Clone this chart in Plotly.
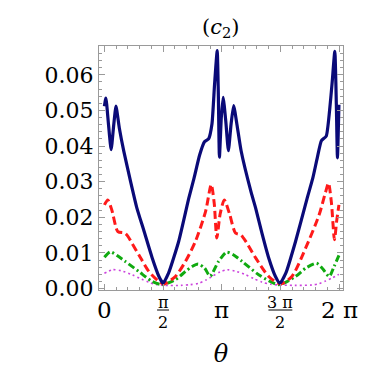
import numpy as np
import plotly.graph_objects as go

PI = np.pi

# ---- data ----
blue_theta = [0, 0.04, 0.11, 0.18, 0.25, 0.31, 0.40, 0.52, 0.70, 0.87, 1.05, 1.28, 1.46, 1.57,
              1.72, 1.99, 2.26, 2.40, 2.55, 2.68, 2.79, 2.88, 2.95, 3.02, 3.05, 3.08, 3.13, 3.18,
              3.25, 3.32, 3.39, 3.46, 3.55, 3.66, 3.93, 4.05, 4.22, 4.40, 4.58, 4.70, 4.86, 5.12,
              5.43, 5.58, 5.70, 5.81, 5.94, 6.03, 6.10, 6.17, 6.21, 6.24, 6.28]
blue_val = [0.0512, 0.0535, 0.046, 0.039, 0.046, 0.0512, 0.045, 0.0385, 0.0301, 0.0226, 0.0165,
            0.0086, 0.0034, 0.0015, 0.0044, 0.0133, 0.0254, 0.031, 0.0375, 0.0412, 0.042, 0.0462,
            0.0574, 0.0668, 0.055, 0.0369, 0.048, 0.0537, 0.047, 0.0387, 0.046, 0.0514, 0.046,
            0.0387, 0.027, 0.0226, 0.0155, 0.0086, 0.0034, 0.0015, 0.0044, 0.0133, 0.0254, 0.031,
            0.0367, 0.0415, 0.0428, 0.050, 0.058, 0.0666, 0.052, 0.0367, 0.0516]

red_theta = [0, 0.09, 0.2, 0.36, 0.54, 0.62, 0.75, 0.92, 1.19, 1.46, 1.6, 1.9, 2.17, 2.44, 2.71,
             2.86, 2.94, 3.01, 3.1, 3.21, 3.35, 3.51, 3.66, 3.8, 4.05, 4.4, 4.71, 5.02, 5.39,
             5.75, 5.92, 6.0, 6.08, 6.16, 6.22, 6.28]
red_val = [0.0235, 0.0249, 0.022, 0.016, 0.0156, 0.0148, 0.0125, 0.0095, 0.0048, 0.002, 0.0013,
           0.0034, 0.0076, 0.0133, 0.0217, 0.0292, 0.024, 0.0142, 0.021, 0.0249, 0.021, 0.0156,
           0.015, 0.013, 0.0086, 0.0034, 0.0013, 0.0034, 0.0114, 0.0207, 0.027, 0.0296, 0.024,
           0.0137, 0.019, 0.0235]

green_theta = [0, 0.16, 0.35, 0.56, 0.92, 1.28, 1.55, 1.9, 2.17, 2.35, 2.51, 2.68, 2.83, 3.05,
               3.27, 3.45, 3.69, 4.13, 4.67, 5.12, 5.4, 5.68, 5.85, 6.02, 6.15, 6.28]
green_val = [0.0088, 0.0103, 0.0092, 0.0076, 0.0048, 0.002, 0.0011, 0.0025, 0.0048, 0.0062,
             0.0069, 0.0058, 0.0035, 0.0075, 0.0102, 0.0095, 0.0076, 0.0039, 0.0011, 0.0034,
             0.0058, 0.0071, 0.0055, 0.0034, 0.0062, 0.0093]

mag_theta = [0, 0.22, 0.45, 0.74, 1.0, 1.19, 1.4, 1.6, 2.05, 2.3, 2.53, 2.72, 2.88, 3.1, 3.29,
             3.5, 3.78, 4.0, 4.22, 4.45, 4.67, 5.1, 5.56, 5.75, 5.92, 6.1, 6.28]
mag_val = [0.0043, 0.0053, 0.005, 0.0039, 0.0026, 0.0018, 0.0011, 0.0009, 0.0009, 0.0011, 0.0015,
           0.0024, 0.0034, 0.0047, 0.0053, 0.0049, 0.0039, 0.0028, 0.0018, 0.0012, 0.001, 0.0009,
           0.001, 0.0014, 0.0021, 0.003, 0.0040]

y_tickvals = [0.00, 0.01, 0.02, 0.03, 0.04, 0.05, 0.06]
y_ticktext = ["0.00", "0.01", "0.02", "0.03", "0.04", "0.05", "0.06"]
x_tickvals = [0, PI / 2, PI, 3 * PI / 2, 2 * PI]
x_ticktext = ["0", "π/2", "π", "3π/2", "2 π"]

FONT = "DejaVu Serif"
FRAME = "#9a9a9a"

fig = go.Figure()
fig.add_trace(go.Scatter(x=mag_theta, y=mag_val, mode="lines",
                         line=dict(color="#cc44dd", width=1.6, dash="2px,3px", shape="spline", smoothing=0.7)))
fig.add_trace(go.Scatter(x=green_theta, y=green_val, mode="lines",
                         line=dict(color="#10aa10", width=3, dash="7px,3px,2px,3px", shape="spline", smoothing=0.7)))
fig.add_trace(go.Scatter(x=red_theta, y=red_val, mode="lines",
                         line=dict(color="#ff1a1a", width=3, dash="8px,4px", shape="spline", smoothing=0.7)))
fig.add_trace(go.Scatter(x=blue_theta, y=blue_val, mode="lines",
                         line=dict(color="#0a0a78", width=3.2, shape="spline", smoothing=0.5)))

fig.update_layout(
    width=374, height=366,
    margin=dict(l=91, r=39, t=38, b=84),
    paper_bgcolor="white", plot_bgcolor="white",
    showlegend=False,
    font=dict(family=FONT, color="black"),
)
fig.update_xaxes(
    range=[-0.145, 6.389], tickmode="array", tickvals=x_tickvals, showticklabels=False,
    showgrid=False, zeroline=False, showline=True, linecolor=FRAME, linewidth=1, mirror="ticks",
    ticks="inside", ticklen=6, tickcolor=FRAME, tickwidth=1,
    minor=dict(tickmode="linear", tick0=0, dtick=PI / 10, ticks="inside", ticklen=3,
               tickcolor=FRAME, tickwidth=1, showgrid=False),
)
fig.update_yaxes(
    range=[-0.0004, 0.0681], tickmode="array", tickvals=y_tickvals, ticktext=y_ticktext,
    showgrid=False, zeroline=False, showline=True, linecolor=FRAME, linewidth=1, mirror="ticks",
    ticks="inside", ticklen=6, tickcolor=FRAME, tickwidth=1, ticklabelstandoff=0,
    tickfont=dict(family=FONT, size=22, color="black"),
    minor=dict(tickmode="linear", tick0=0, dtick=0.002, ticks="inside", ticklen=3,
               tickcolor=FRAME, tickwidth=1, showgrid=False),
)

def ypaper(px):
    return (282 - px) / 244.0

ann = []
# x tick labels
for xv, lab in zip(x_tickvals, x_ticktext):
    if "/" in lab:
        num, den = lab.split("/")
        num = num.replace("3π", "3 π")
        half = 0.16 if num == "π" else 0.32
        ann.append(dict(x=xv, y=ypaper(294), xref="x", yref="paper", text=num, showarrow=False,
                        font=dict(family=FONT, size=16), xanchor="center", yanchor="middle"))
        ann.append(dict(x=xv, y=ypaper(314), xref="x", yref="paper", text=den, showarrow=False,
                        font=dict(family=FONT, size=16), xanchor="center", yanchor="middle"))
        fig.add_shape(type="line", xref="x", yref="paper", x0=xv - half, x1=xv + half,
                      y0=ypaper(302), y1=ypaper(302), line=dict(color="black", width=1))
    else:
        ann.append(dict(x=xv, y=ypaper(302), xref="x", yref="paper", text=lab, showarrow=False,
                        font=dict(family=FONT, size=23), xanchor="center", yanchor="middle"))
ann.append(dict(x=0.5, y=ypaper(346), xref="paper", yref="paper", text=" θ ", showarrow=False,
                font=dict(family=FONT, size=24, style="italic"), xanchor="center", yanchor="middle"))
ann.append(dict(x=0.5, y=ypaper(20), xref="paper", yref="paper", text="(<i>c</i><sub>2</sub>)",
                showarrow=False, font=dict(family=FONT, size=21), xanchor="center", yanchor="middle"))
fig.update_layout(annotations=ann)

fig.write_html("out.html")
